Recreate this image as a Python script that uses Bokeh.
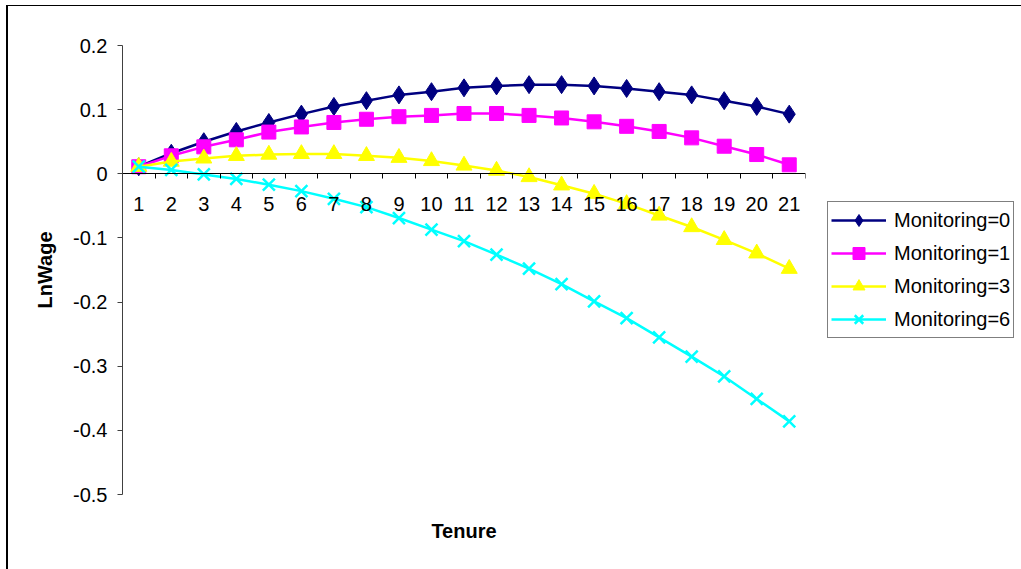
from bokeh.plotting import figure
from bokeh.models import (Range1d, FixedTicker, Legend, LegendItem, LinearAxis)
from bokeh.embed import file_html
from bokeh.resources import INLINE

# ---- data ----
tenure = list(range(1, 22))
mon0 = [0.011, 0.032, 0.050, 0.066, 0.080, 0.093, 0.105, 0.114, 0.123, 0.128, 0.134,
        0.137, 0.139, 0.139, 0.137, 0.133, 0.128, 0.123, 0.114, 0.105, 0.093]
mon1 = [0.011, 0.028, 0.042, 0.053, 0.065, 0.073, 0.080, 0.085, 0.089, 0.091, 0.094,
        0.094, 0.091, 0.087, 0.081, 0.074, 0.066, 0.056, 0.043, 0.030, 0.014]
mon3 = [0.011, 0.019, 0.024, 0.028, 0.030, 0.031, 0.031, 0.028, 0.025, 0.020, 0.013,
        0.005, -0.005, -0.018, -0.031, -0.047, -0.065, -0.083, -0.103, -0.124, -0.148]
mon6 = [0.011, 0.006, -0.001, -0.008, -0.017, -0.027, -0.039, -0.052, -0.069, -0.087, -0.105,
        -0.126, -0.148, -0.172, -0.199, -0.225, -0.255, -0.285, -0.316, -0.351, -0.386]
series_names = ["Monitoring=0", "Monitoring=1", "Monitoring=3", "Monitoring=6"]
y_ticks = [0.2, 0.1, 0.0, -0.1, -0.2, -0.3, -0.4, -0.5]
y_tick_labels = ["0.2", "0.1", "0", "-0.1", "-0.2", "-0.3", "-0.4", "-0.5"]
x_title = "Tenure"
y_title = "LnWage"

FONT = "Liberation Sans"

p = figure(frame_width=683, frame_height=449, output_backend="svg", toolbar_location=None,
           x_range=Range1d(0.5, 21.5), y_range=Range1d(-0.5, 0.2),
           min_border_left=114, min_border_top=39, min_border_right=216,
           min_border_bottom=75, x_axis_location="below")
p.outline_line_color = None
p.grid.visible = False
p.background_fill_color = "white"
p.border_fill_color = "white"
p.styles = {"margin-left": "6px", "margin-top": "5px",
            "border-left": "2px solid black", "border-top": "1px solid black"}

# x axis crossing at y = 0
xa = p.xaxis[0]
xa.fixed_location = 0
xa.ticker = FixedTicker(ticks=tenure,
                        minor_ticks=[t - 0.5 for t in tenure] + [tenure[-1] + 0.5])
xa.major_tick_out = 0
xa.major_tick_in = 0
xa.minor_tick_out = 5
xa.minor_tick_in = 0
xa.minor_tick_line_color = "black"
xa.axis_line_color = "black"
xa.major_label_standoff = 18
xa.major_label_text_font = FONT
xa.major_label_text_font_size = "20px"
xa.major_label_text_color = "black"

# axis that only carries the x title, at the bottom of the plot area
ta = LinearAxis(ticker=FixedTicker(ticks=[]), axis_line_color=None,
                major_tick_line_color=None, minor_tick_line_color=None,
                major_label_text_font_size="0px",
                axis_label=x_title, axis_label_text_font=FONT,
                axis_label_text_font_size="20px", axis_label_text_font_style="bold",
                axis_label_standoff=25, axis_label_text_color="black")
p.add_layout(ta, "below")

ya = p.yaxis[0]
ya.ticker = FixedTicker(ticks=y_ticks, minor_ticks=[])
ya.major_label_overrides = {t: l for t, l in zip(y_ticks, y_tick_labels)}
ya.major_tick_out = 5
ya.major_tick_in = 0
ya.axis_line_color = "#404040"
ya.major_tick_line_color = "#404040"
ya.major_label_standoff = 10
ya.major_label_text_font = FONT
ya.major_label_text_font_size = "20px"
ya.major_label_text_color = "black"
ya.axis_label = y_title
ya.axis_label_text_font = FONT
ya.axis_label_text_font_size = "20px"
ya.axis_label_text_font_style = "bold"
ya.axis_label_text_color = "black"
ya.axis_label_standoff = 14

colors = ["#000080", "#FF00FF", "#FFFF00", "#00FFFF"]
markers = ["diamond", "square", "triangle", "x"]
sizes = [18, 14, 16, 17]
items = []
for vals, name, c, m, s in zip([mon0, mon1, mon3, mon6], series_names, colors, markers, sizes):
    r1 = p.line(tenure, vals, line_color=c, line_width=2.5)
    if m == "x":
        r2 = p.scatter(tenure, vals, marker=m, size=s, line_color=c, line_width=2.5)
    else:
        r2 = p.scatter(tenure, vals, marker=m, size=s, fill_color=c, line_color=c)
    items.append(LegendItem(label=name, renderers=[r1, r2]))

legend = Legend(items=items, location=(22, 156), padding=3, glyph_width=55,
                glyph_height=30, label_height=20, spacing=3, label_standoff=8,
                label_text_font=FONT, label_text_font_size="20px",
                label_text_color="black",
                border_line_color="black", border_line_width=1,
                background_fill_color="white", background_fill_alpha=1,
                margin=0)
p.add_layout(legend, "right")

open("out.html", "w").write(file_html(p, INLINE))
